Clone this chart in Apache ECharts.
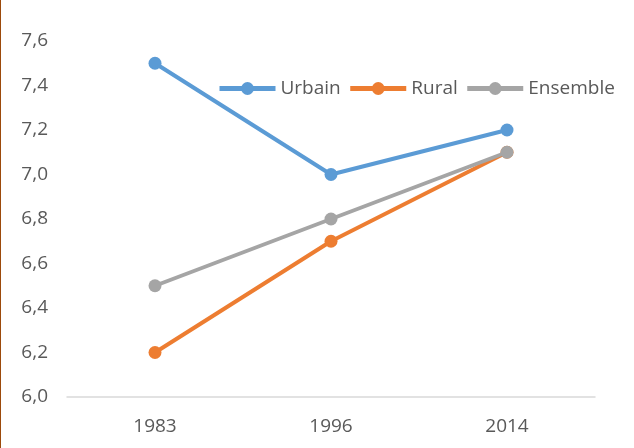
<!DOCTYPE html>
<html><head><meta charset="utf-8">
<script src="https://cdn.jsdelivr.net/npm/echarts@6/dist/echarts.min.js"></script>
<style>
html,body{margin:0;padding:0;background:#fff;}
#c{width:634px;height:448px;box-sizing:border-box;border-left:1px solid #9C4A0B;}
</style></head><body>
<div id="c"></div>
<script>
const categories = ['1983','1996','2014'];
const urbain = [7.5, 7.0, 7.2];
const rural = [6.2, 6.7, 7.1];
const ensemble = [6.5, 6.8, 7.1];
const seriesNames = ['Urbain','Rural','Ensemble'];
const colors = ['#5B9BD5','#ED7D31','#A5A5A5'];
const FONT = '"Open Sans", "Liberation Sans", sans-serif';
const chart = echarts.init(document.getElementById('c'));
const mk = (name, data, color, z) => ({
  name, type:'line', data, z,
  symbol:'circle', symbolSize:13,
  lineStyle:{width:4, color},
  itemStyle:{color, borderWidth:0},
  emphasis:{disabled:true}
});
chart.setOption({
  animation:false,
  textStyle:{fontFamily:FONT},
  grid:{left:66, right:39, top:41, bottom:51},
  legend:{
    left:211, top:74, itemWidth:56, itemHeight:16, itemGap:7,
    lineStyle:{width:5},
    itemStyle:{borderWidth:0},
    textStyle:{fontSize:19, color:'#595959', fontFamily:FONT},
    data:seriesNames
  },
  xAxis:{
    type:'category', data:categories, boundaryGap:true,
    axisLine:{lineStyle:{color:'#D9D9D9', width:1.5}},
    axisTick:{show:false},
    axisLabel:{fontSize:19, color:'#595959', margin:20, fontFamily:FONT}
  },
  yAxis:{
    type:'value', min:6.0, max:7.6, interval:0.2,
    axisLine:{show:false}, axisTick:{show:false},
    splitLine:{show:false},
    axisLabel:{fontSize:19, color:'#595959', margin:19, fontFamily:FONT,
      formatter: v => v.toFixed(1).replace('.', ',')}
  },
  series:[
    mk(seriesNames[0], urbain, colors[0], 3),
    mk(seriesNames[1], rural, colors[1], 2),
    mk(seriesNames[2], ensemble, colors[2], 4)
  ]
});
</script></body></html>
